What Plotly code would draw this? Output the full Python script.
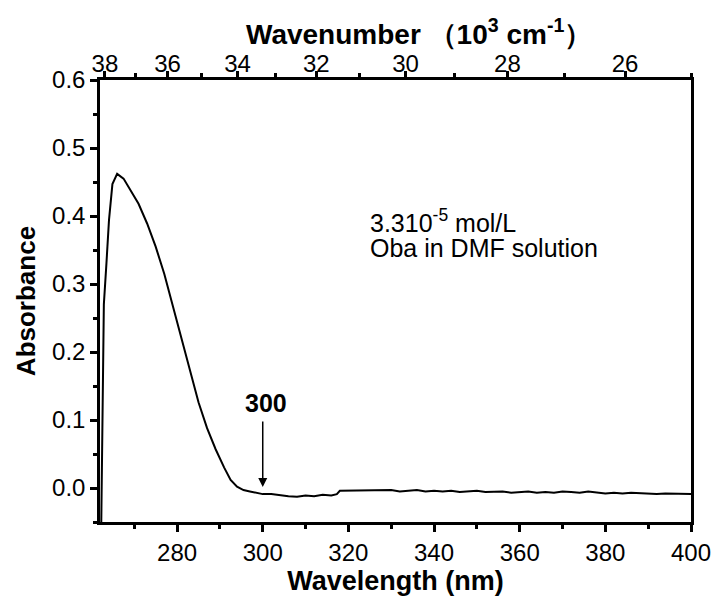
import plotly.graph_objects as go

wavelength = [262.3, 262.6, 262.9, 263.5, 264.1, 264.9, 266.0, 267.5, 269.0, 271.0,
              273.0, 275.0, 277.0, 279.0, 281.0, 283.0, 285.0, 287.0, 289.0, 291.0,
              292.5, 294.0, 295.5, 297, 298.5, 300, 302,
              304, 306, 308, 310, 312, 314, 316, 317.3, 318.0, 320,
              322, 324, 326, 328, 330, 332, 334, 336, 338, 340,
              342, 344, 346, 348, 350, 352, 354, 356, 358, 360,
              362, 364, 366, 368, 370, 372, 374, 376, 378, 380,
              382, 384, 386, 388, 390, 392, 394, 396, 398, 400]
absorbance = [-0.05, 0.150, 0.270, 0.330, 0.394, 0.447, 0.462, 0.455, 0.440, 0.418,
              0.389, 0.355, 0.315, 0.268, 0.218, 0.170, 0.126, 0.088, 0.057, 0.030,
              0.012, 0.002, -0.003, -0.005, -0.007, -0.009, -0.009,
              -0.011, -0.012, -0.013, -0.011, -0.012, -0.010, -0.011, -0.009, -0.004, -0.004,
              -0.003, -0.004, -0.003, -0.004, -0.003, -0.005, -0.004, -0.003, -0.005, -0.004,
              -0.005, -0.004, -0.006, -0.005, -0.004, -0.006, -0.005, -0.005, -0.007, -0.006,
              -0.005, -0.007, -0.006, -0.007, -0.005, -0.006, -0.007, -0.005, -0.007, -0.008,
              -0.007, -0.008, -0.007, -0.008, -0.008, -0.009, -0.008, -0.008, -0.009, -0.009]

wn_labels = [38, 36, 34, 32, 30, 28, 26]
wn_minor = [37, 35, 33, 31, 29, 27, 25]

font_family = "Liberation Sans, Arial, sans-serif"

fig = go.Figure()
fig.add_trace(go.Scatter(x=wavelength, y=absorbance, mode="lines",
                         line=dict(color="black", width=2), showlegend=False))
fig.add_trace(go.Scatter(x=[wavelength[0]], y=[absorbance[0]], xaxis="x2",
                         mode="markers", marker=dict(opacity=0), showlegend=False,
                         hoverinfo="skip"))
fig.add_trace(go.Scatter(x=[wavelength[0]], y=[absorbance[0]], yaxis="y2",
                         mode="markers", marker=dict(opacity=0), showlegend=False,
                         hoverinfo="skip"))

axis_common = dict(showline=True, linecolor="black", linewidth=2.5, mirror=False,
                   showgrid=False, zeroline=False, ticks="outside", tickwidth=2.5,
                   tickcolor="black", automargin=False,
                   tickfont=dict(size=24, color="black", family=font_family))
minor_common = dict(ticks="outside", ticklen=4, tickwidth=2.5, tickcolor="black")

fig.update_layout(
    width=716, height=599,
    margin=dict(l=100, r=25, t=80, b=77),
    plot_bgcolor="white", paper_bgcolor="white",
    font=dict(family=font_family, color="black"),
    xaxis=dict(range=[262, 400], tickvals=[280, 300, 320, 340, 360, 380, 400], ticklen=7,
               minor=dict(tickvals=[270, 290, 310, 330, 350, 370, 390], **minor_common),
               title=dict(text="<b>Wavelength (nm)</b>", font=dict(size=27, family=font_family),
                          standoff=2),
               **axis_common),
    xaxis2=dict(overlaying="x", side="top", range=[262, 400],
                tickvals=[1e4 / w for w in wn_labels], ticktext=[str(w) for w in wn_labels],
                ticklen=6, ticklabelstandoff=-10,
                minor=dict(tickvals=[1e4 / w for w in wn_minor], **minor_common),
                **axis_common),
    yaxis=dict(range=[-0.05, 0.6], tickvals=[0.0, 0.1, 0.2, 0.3, 0.4, 0.5, 0.6],
               ticktext=["0.0", "0.1", "0.2", "0.3", "0.4", "0.5", "0.6"], ticklen=7,
               minor=dict(tickvals=[-0.05, 0.05, 0.15, 0.25, 0.35, 0.45, 0.55], **minor_common),
               title=dict(text="<b>Absorbance</b>", font=dict(size=26, family=font_family),
                          standoff=9),
               **axis_common),
    yaxis2=dict(overlaying="y", side="right", range=[-0.05, 0.6], showline=True,
                linecolor="black", linewidth=2.5, showticklabels=False, ticks="",
                showgrid=False, zeroline=False, automargin=False),
)

fig.add_annotation(xref="paper", yref="paper", x=0.54, y=1, yanchor="middle", yshift=48,
                   text="<b>Wavenumber （10<sup>3</sup> cm<sup>-1</sup>）</b>", showarrow=False,
                   font=dict(size=28, family=font_family, color="black"))
fig.add_annotation(x=300, y=0.0015, ax=300, ay=0.1, xref="x", yref="y", axref="x", ayref="y",
                   text="", showarrow=True, arrowhead=2, arrowsize=1.2, arrowwidth=1.5,
                   arrowcolor="black")
fig.add_annotation(x=300.8, y=0.125, xref="x", yref="y", text="<b>300</b>", showarrow=False,
                   font=dict(size=25, family=font_family, color="black"))
fig.add_annotation(x=324.5, y=0.393, xref="x", yref="y", xanchor="left", yanchor="middle",
                   text="3.310<sup>-5</sup> mol/L", showarrow=False,
                   font=dict(size=25, family=font_family, color="black"))
fig.add_annotation(x=324.5, y=0.353, xref="x", yref="y", xanchor="left", yanchor="middle",
                   text="Oba in DMF solution", showarrow=False,
                   font=dict(size=25, family=font_family, color="black"))

fig.write_html("out.html", config={"displayModeBar": False},
               post_script="document.body.style.margin='0px';")
